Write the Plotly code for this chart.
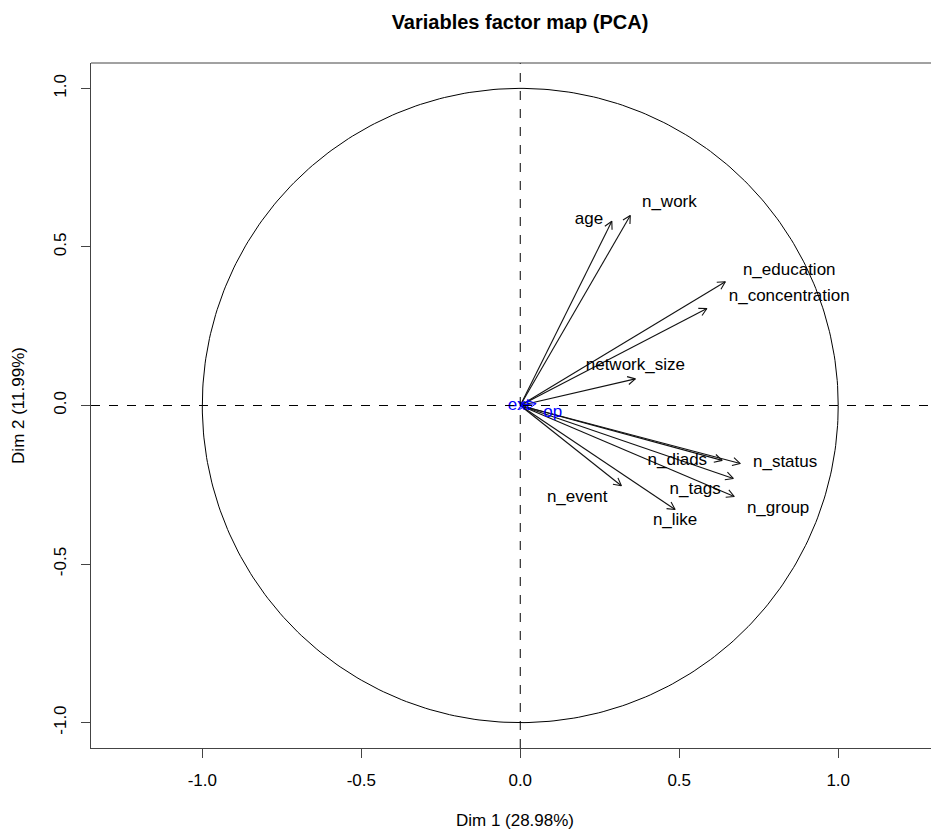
import numpy as np
import plotly.graph_objects as go

# Active variables: coordinates on Dim 1 / Dim 2
variables = ["age", "n_work", "n_education", "n_concentration", "network_size",
             "n_diads", "n_status", "n_tags", "n_group", "n_event", "n_like"]
dim1 = [0.288, 0.346, 0.645, 0.587, 0.362, 0.635, 0.692, 0.670, 0.673, 0.318, 0.487]
dim2 = [0.581, 0.599, 0.390, 0.306, 0.084, -0.173, -0.183, -0.230, -0.287, -0.253, -0.328]
# label anchor positions (as placed in the original plot)
label_x = [0.216, 0.469, 0.846, 0.846, 0.362, 0.494, 0.833, 0.550, 0.811, 0.179, 0.487]
label_y = [0.586, 0.639, 0.426, 0.343, 0.124, -0.173, -0.179, -0.267, -0.324, -0.291, -0.363]

# Supplementary variables
sup_vars = ["ext", "op"]
sup_dim1 = [0.020, 0.050]
sup_dim2 = [0.002, 0.006]
sup_label_x = [-0.004, 0.102]
sup_label_y = [0.0, -0.023]

title = "Variables factor map (PCA)"
xlab = "Dim 1 (28.98%)"
ylab = "Dim 2 (11.99%)"
tick_vals = [-1.0, -0.5, 0.0, 0.5, 1.0]
tick_text = ["-1.0", "-0.5", "0.0", "0.5", "1.0"]

FONT = "Liberation Sans, Arial, Helvetica, sans-serif"
FS = 17
HEAD = 0.027
ANG = np.deg2rad(28)


def arrow_path(xs, ys):
    px, py = [], []
    for x, y in zip(xs, ys):
        th = np.arctan2(y, x)
        px += [0, x, None]
        py += [0, y, None]
        px += [x - HEAD * np.cos(th + ANG), x, x - HEAD * np.cos(th - ANG), None]
        py += [y - HEAD * np.sin(th + ANG), y, y - HEAD * np.sin(th - ANG), None]
    return px, py


fig = go.Figure()

t = np.linspace(0, 2 * np.pi, 400)
fig.add_trace(go.Scatter(x=np.cos(t), y=np.sin(t), mode="lines",
                         line=dict(color="black", width=1), hoverinfo="skip"))

ax, ay = arrow_path(dim1, dim2)
fig.add_trace(go.Scatter(x=ax, y=ay, mode="lines",
                         line=dict(color="#111111", width=1.1), hoverinfo="skip"))
sx, sy = arrow_path(sup_dim1, sup_dim2)
fig.add_trace(go.Scatter(x=sx, y=sy, mode="lines",
                         line=dict(color="blue", width=1), hoverinfo="skip"))

fig.add_trace(go.Scatter(x=label_x, y=label_y, text=variables, mode="text",
                         textfont=dict(family=FONT, size=FS, color="black"),
                         hoverinfo="skip"))
fig.add_trace(go.Scatter(x=sup_label_x, y=sup_label_y, text=sup_vars, mode="text",
                         textfont=dict(family=FONT, size=FS, color="blue"),
                         hoverinfo="skip"))

fig.update_layout(
    width=931, height=822,
    margin=dict(l=83, r=0, t=55, b=82),
    plot_bgcolor="white", paper_bgcolor="white",
    showlegend=False,
    font=dict(family=FONT, size=FS, color="black"),
    title=dict(text="<b>" + title + "</b>", x=512 / 931, xref="container",
               xanchor="center", y=1 - 14 / 822, yref="container", yanchor="middle",
               font=dict(family=FONT, size=20, color="black")),
    shapes=[
        dict(type="line", xref="paper", yref="y", x0=0, x1=1, y0=0, y1=0,
             line=dict(color="black", width=1, dash="dash")),
        dict(type="line", xref="x", yref="paper", x0=0, x1=0, y0=0, y1=1,
             line=dict(color="black", width=1, dash="dash")),
        dict(type="line", xref="paper", yref="paper", x0=0, x1=1, y0=1, y1=1,
             line=dict(color="#444444", width=1)),
    ],
)
fig.update_xaxes(range=[-1.350, 1.317], showgrid=False, zeroline=False,
                 showline=True, linecolor="#444444", linewidth=1,
                 ticks="outside", ticklen=9, tickcolor="#444444",
                 tickvals=tick_vals, ticktext=tick_text, ticklabelstandoff=8,
                 tickfont=dict(family=FONT, size=FS), automargin=False,
                 title=dict(text=xlab, font=dict(family=FONT, size=FS), standoff=24))
fig.update_yaxes(range=[-1.080, 1.080], showgrid=False, zeroline=False,
                 showline=True, linecolor="#444444", linewidth=1,
                 ticks="outside", ticklen=9, tickcolor="#444444",
                 tickvals=tick_vals, ticktext=tick_text, tickangle=-90,
                 ticklabelstandoff=8, automargin=False,
                 tickfont=dict(family=FONT, size=FS),
                 title=dict(text=ylab, font=dict(family=FONT, size=FS), standoff=22))

fig.write_html("out.html")
